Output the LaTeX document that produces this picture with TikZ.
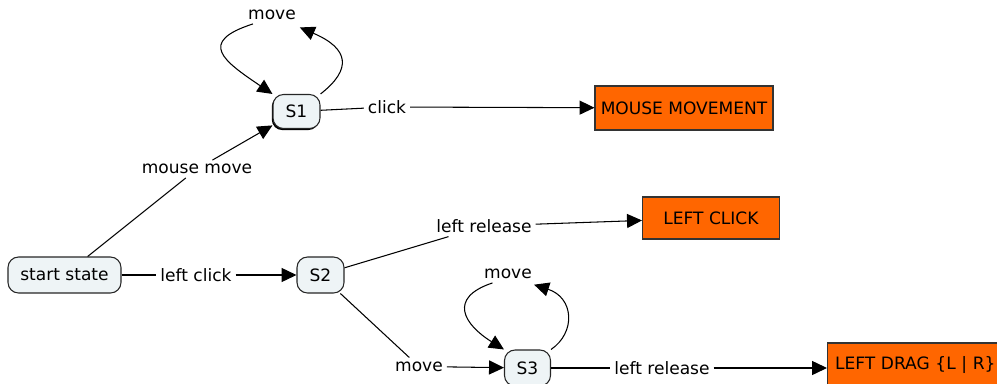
\documentclass[tikz,border=0pt]{standalone}
\usepackage{fontspec}
\setmainfont{DejaVu Sans}
\usepackage{tikz, xcolor}
\usetikzlibrary{arrows.meta, shadows}
\definecolor{state_fill}{RGB}{238,244,246}
\definecolor{out_orange}{RGB}{255,102,0}

\begin{document}
\begin{tikzpicture}[
    font=\fontsize{9.7}{11}\selectfont,
    line width=0.6pt,
    state/.style={draw=black!85, fill=state_fill, rounded corners=6pt, minimum height=0.72cm, inner sep=0pt},
    result/.style={draw=black!80, fill=out_orange, minimum height=0.84cm, inner sep=0pt},
    lbl/.style={inner sep=2pt},
    arr/.style={-{Triangle[length=8.5pt, width=8pt]}}
    ]
    \useasboundingbox (0,0) rectangle (19.94,-7.68);

    \node[state, minimum width=2.26cm] (start) at (1.29,-5.5) {start state};
    \node[state, minimum width=0.94cm, minimum height=0.68cm, drop shadow={opacity=1, fill=black, shadow xshift=-0.7pt, shadow yshift=-0.9pt}] (s1) at (5.93,-2.23) {S1};
    \node[state, minimum width=0.94cm] (s2) at (6.41,-5.5) {S2};
    \node[state, minimum width=0.92cm] (s3) at (10.55,-7.36) {S3};

    \node[result, minimum width=3.56cm, minimum height=0.88cm] (mm) at (13.68,-2.16) {MOUSE MOVEMENT};
    \node[result, minimum width=2.74cm] (lc) at (14.22,-4.36) {LEFT CLICK};
    \node[result, anchor=west, minimum width=3.6cm, minimum height=0.88cm, align=left, text width=3.3cm] (ld) at (16.54,-7.3) {LEFT DRAG \{L | R\}};

    \node[lbl] (move1) at (5.44,-0.3) {move};
    \node[lbl] (click) at (7.74,-2.14) {click};
    \node[lbl] (mousemove) at (3.94,-3.38) {mouse move};
    \node[lbl] (leftclick) at (3.92,-5.5) {left click};
    \node[lbl] (release1) at (9.68,-4.52) {left release};
    \node[lbl] (move2) at (10.16,-5.48) {move};
    \node[lbl] (move3) at (8.38,-7.33) {move};
    \node[lbl] (release2) at (13.24,-7.36) {left release};

    \draw (start) -- (mousemove);
    \draw[arr] (mousemove) -- (s1);
    \draw (start) -- (leftclick);
    \draw[arr] (leftclick) -- (s2);
    \draw (s1) -- (click);
    \draw[arr] (click) -- (mm);
    \draw (s2) -- (release1);
    \draw[arr] (release1) -- (lc);
    \draw (s2) -- (move3);
    \draw[arr] (move3) -- (s3);
    \draw (s3) -- (release2);
    \draw[arr] (release2) -- (ld.west |- release2);

    \draw[arr] (s1.north east) .. controls +(0.64,0.5) and +(0.98,-0.42) .. ([yshift=-2pt]move1.south east);
    \draw[arr] ([xshift=5pt]move1.south west) .. controls +(-1.12,-0.36) and +(-0.98,0.66) .. (s1.north west);
    \draw[arr] (s3.north east) .. controls +(0.5,0.34) and +(0.8,-0.26) .. ([xshift=-1pt, yshift=-1pt]move2.south east);
    \draw[arr] ([xshift=7pt]move2.south west) .. controls +(-0.9,-0.3) and +(-0.8,0.5) .. (s3.north west);

\end{tikzpicture}
\end{document}
